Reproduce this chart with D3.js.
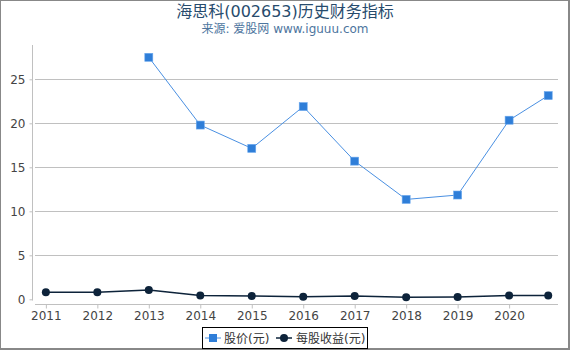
<!DOCTYPE html>
<html><head><meta charset="utf-8">
<script src="https://cdn.jsdelivr.net/npm/d3@7"></script>
<style>body{margin:0;background:#fff}svg{display:block}</style>
</head><body>
<svg id="c" width="570" height="350"></svg>
<script>
const years = [2011, 2012, 2013, 2014, 2015, 2016, 2017, 2018, 2019, 2020, 2020.76];
const price = [null, null, 27.5, 19.8, 17.15, 21.9, 15.7, 11.35, 11.85, 20.35, 23.15];
const eps = [0.8, 0.8, 1.06, 0.42, 0.38, 0.3, 0.38, 0.22, 0.27, 0.42, 0.44];
const xTicks = [2011, 2012, 2013, 2014, 2015, 2016, 2017, 2018, 2019, 2020];
const yTicks = [0, 5, 10, 15, 20, 25];
const seriesNames = ["股价(元)", "每股收益(元)"];

const svg = d3.select("#c");
const font = "'DejaVu Sans', 'Noto Sans CJK SC', sans-serif";
const x = d3.scaleLinear().domain([2010.75, 2020.95]).range([33, 558]);
const y = d3.scaleLinear().domain([0, 25]).range([299.3, 79.3]);

// border
svg.append("rect").attr("x", 0.5).attr("y", 0.5).attr("width", 568).attr("height", 348)
  .attr("fill", "none").attr("stroke", "#888").attr("stroke-width", 1);
svg.append("line").attr("x1", 569).attr("x2", 569).attr("y1", 0).attr("y2", 350).attr("stroke", "#888").attr("stroke-width", 2);
svg.append("line").attr("x1", 0).attr("x2", 570).attr("y1", 349).attr("y2", 349).attr("stroke", "#888").attr("stroke-width", 2);

// title
svg.append("text").attr("x", 285).attr("y", 17).attr("text-anchor", "middle")
  .attr("font-family", font).attr("font-size", 16).attr("fill", "#274b6d")
  .text("海思科(002653)历史财务指标");
svg.append("text").attr("x", 285).attr("y", 33).attr("text-anchor", "middle")
  .attr("font-family", font).attr("font-size", 12).attr("fill", "#4d759e")
  .text("来源: 爱股网 www.iguuu.com");

// grid
const grid = svg.append("g");
yTicks.filter(t => t > 0).forEach(t => {
  grid.append("line").attr("x1", 35).attr("x2", 558).attr("y1", Math.round(y(t)) + 0.5).attr("y2", Math.round(y(t)) + 0.5)
    .attr("stroke", "#c0c0c0").attr("stroke-width", 1);
});

// y axis
const yAxis = d3.axisLeft(y).tickValues(yTicks).tickSize(3).tickPadding(4).tickFormat(d3.format("d"));
const gy = svg.append("g").attr("transform", "translate(32.5,0)").call(yAxis);
gy.select(".domain").attr("d", "M0,45V300.5").attr("stroke", "#c0c0c0");
gy.selectAll(".tick line").attr("stroke", "#c0c0c0");
gy.selectAll("text").attr("font-family", font).attr("font-size", 12).attr("fill", "#444");

// x axis
const xAxis = d3.axisBottom(x).tickValues(xTicks).tickSize(4).tickPadding(3).tickFormat(d3.format("d"));
const gx = svg.append("g").attr("transform", "translate(0,304.5)").call(xAxis);
gx.select(".domain").attr("d", "M35,0H558").attr("stroke", "#c0c0c0");
gx.selectAll(".tick line").attr("stroke", "#c0c0c0");
gx.selectAll("text").attr("font-family", font).attr("font-size", 12).attr("fill", "#444");

// price line
const pData = years.map((yr, i) => ({x: yr, v: price[i]})).filter(d => d.v != null);
const line = d3.line().x(d => x(d.x)).y(d => y(d.v));
svg.append("path").datum(pData).attr("d", line).attr("fill", "none").attr("stroke", "#4a90e2").attr("stroke-width", 1);
svg.selectAll(".sq").data(pData).enter().append("rect")
  .attr("x", d => x(d.x) - 4).attr("y", d => y(d.v) - 4).attr("width", 8).attr("height", 8)
  .attr("fill", "#2f7ed8").attr("stroke", "#6aa8ee").attr("stroke-width", 0.6);

// eps line
const eData = years.map((yr, i) => ({x: yr, v: eps[i]}));
svg.append("path").datum(eData).attr("d", line).attr("fill", "none").attr("stroke", "#0d233a").attr("stroke-width", 1.5);
svg.selectAll(".ci").data(eData).enter().append("circle")
  .attr("cx", d => x(d.x)).attr("cy", d => y(d.v)).attr("r", 4)
  .attr("fill", "#0d233a");

// legend
const lg = svg.append("g");
lg.append("rect").attr("x", 202.5).attr("y", 327.5).attr("width", 165).attr("height", 21)
  .attr("fill", "#fff").attr("stroke", "#000").attr("stroke-width", 1);
lg.append("line").attr("x1", 205).attr("x2", 221).attr("y1", 338).attr("y2", 338).attr("stroke", "#4a90e2").attr("stroke-width", 1);
lg.append("rect").attr("x", 209).attr("y", 334).attr("width", 8).attr("height", 8).attr("fill", "#2f7ed8");
lg.append("text").attr("x", 224).attr("y", 342.5).attr("font-family", font).attr("font-size", 12).attr("fill", "#333").text(seriesNames[0]);
lg.append("line").attr("x1", 276).attr("x2", 292).attr("y1", 338).attr("y2", 338).attr("stroke", "#0d233a").attr("stroke-width", 1.5);
lg.append("circle").attr("cx", 284).attr("cy", 338).attr("r", 4).attr("fill", "#0d233a");
lg.append("text").attr("x", 296).attr("y", 342.5).attr("font-family", font).attr("font-size", 12).attr("fill", "#333").text(seriesNames[1]);
</script>
</body></html>
